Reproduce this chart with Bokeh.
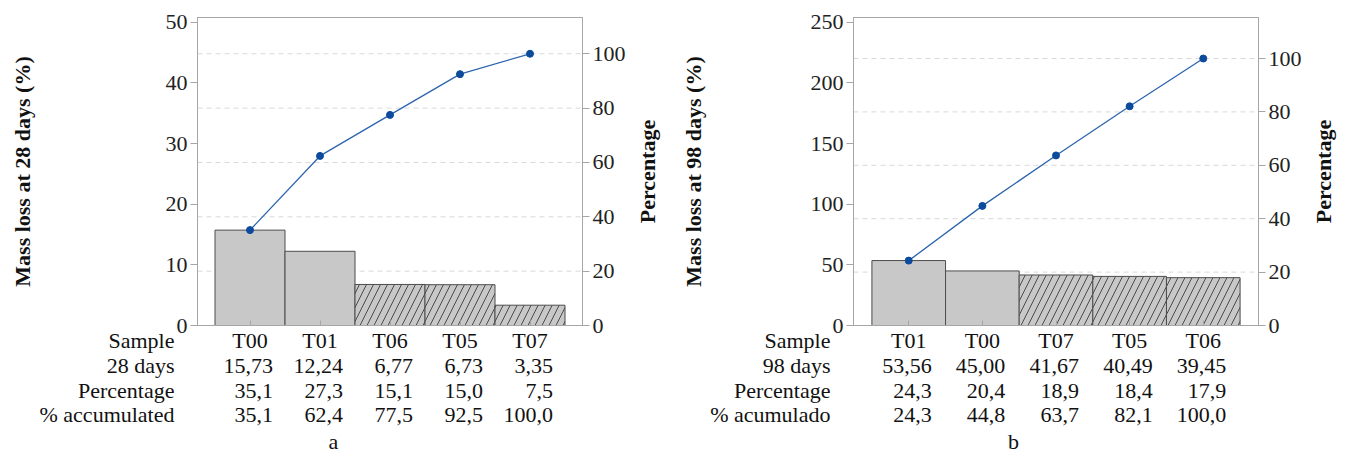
import math
from bokeh.plotting import figure
from bokeh.models import Range1d, LinearAxis, FixedTicker, ColumnDataSource
from bokeh.core.properties import value
from bokeh.layouts import row
from bokeh.embed import file_html
from bokeh.resources import INLINE

# ---------------- data ----------------
samples_a = ["T00", "T01", "T06", "T05", "T07"]
mass_a = [15.73, 12.24, 6.77, 6.73, 3.35]
pct_a = [35.1, 27.3, 15.1, 15.0, 7.5]
cum_a = [35.1, 62.4, 77.5, 92.5, 100.0]
hatched_a = [False, False, True, True, True]
left_ticks_a = [0, 10, 20, 30, 40, 50]
row_labels_a = ["Sample", "28 days", "Percentage", "% accumulated"]
ylabel_a = "Mass loss at 28 days (%)"

samples_b = ["T01", "T00", "T07", "T05", "T06"]
mass_b = [53.56, 45.00, 41.67, 40.49, 39.45]
pct_b = [24.3, 20.4, 18.9, 18.4, 17.9]
cum_b = [24.3, 44.8, 63.7, 82.1, 100.0]
hatched_b = [False, False, True, True, True]
left_ticks_b = [0, 50, 100, 150, 200, 250]
row_labels_b = ["Sample", "98 days", "Percentage", "% acumulado"]
ylabel_b = "Mass loss at 98 days (%)"

right_ticks = [0, 20, 40, 60, 80, 100]
grid_ticks = [20, 40, 60, 80, 100]

# ---------------- layout / style ----------------
FONT = "Liberation Serif"
FS = "22px"
H = 455
FRAME_TOP = 17       # chart box top (px)
FRAME_BOT = 325      # chart box bottom (px)
ROW_Y = [340, 365, 390, 414]
LETTER_Y = 441
GRAY = "#a6a6a6"
TXT = "#111111"


def fmt(v, d):
    return f"{v:.{d}f}".replace(".", ",")


def panel(samples, mass, pct, cum, hatched, left_ticks, ymax, ylabel, row_labels,
          letter, width, box_left, box_right, lab_standoff, letter_x):
    n = len(samples)
    total = sum(mass)
    centers = [i + 0.5 for i in range(n)]
    x0, x1 = -0.25, n + 0.25
    pxx = (box_right - box_left) / (x1 - x0)
    pxy = (FRAME_BOT - FRAME_TOP) / ymax
    xr = Range1d(x0 - box_left / pxx, x1 + (width - box_right) / pxx)
    ys = -(H - FRAME_BOT) / pxy
    ye = ymax + FRAME_TOP / pxy
    yr = Range1d(ys, ye)
    k = 100.0 / total
    p = figure(width=width, height=H, x_range=xr, y_range=yr, output_backend="svg",
               toolbar_location=None, x_axis_location=None, y_axis_location=None,
               min_border=0, min_border_left=0, min_border_right=0,
               min_border_top=0, min_border_bottom=0)
    p.extra_y_ranges = {"pct": Range1d(ys * k, ye * k)}
    p.outline_line_color = None
    p.xgrid.visible = False
    p.ygrid.visible = False

    # dashed percentage grid lines
    p.segment(x0=[x0] * len(grid_ticks), x1=[x1] * len(grid_ticks), y0=grid_ticks,
              y1=grid_ticks, y_range_name="pct", line_color="#d9d9d9",
              line_dash="5 4", line_width=1)
    # chart box
    p.quad(left=[x0], right=[x1], bottom=[0], top=[ymax], fill_color=None,
           line_color=GRAY, line_width=1)

    # left axis
    ya = LinearAxis(ticker=FixedTicker(ticks=left_ticks), fixed_location=x0,
                    bounds=(0, ymax))
    ya.axis_line_color = GRAY
    ya.major_tick_line_color = GRAY
    ya.major_tick_out = 7
    ya.major_tick_in = 0
    ya.minor_tick_line_color = None
    ya.major_label_standoff = 3
    ya.major_label_text_font = FONT
    ya.major_label_text_font_size = FS
    ya.major_label_text_color = "#222222"
    ya.axis_label = ylabel
    ya.axis_label_text_font = FONT
    ya.axis_label_text_font_size = FS
    ya.axis_label_text_font_style = "bold"
    ya.axis_label_text_color = TXT
    ya.axis_label_standoff = lab_standoff
    p.add_layout(ya, "left")

    # right axis (cumulative percentage)
    ra = LinearAxis(y_range_name="pct", ticker=FixedTicker(ticks=right_ticks),
                    fixed_location=x1, bounds=(0, ymax * k))
    ra.axis_line_color = GRAY
    ra.major_tick_line_color = GRAY
    ra.major_tick_out = 7
    ra.major_tick_in = 0
    ra.minor_tick_line_color = None
    ra.major_label_standoff = 3
    ra.major_label_text_font = FONT
    ra.major_label_text_font_size = FS
    ra.major_label_text_color = "#222222"
    p.add_layout(ra, "right")

    # bottom axis: inward ticks at bar centres
    xa = LinearAxis(ticker=FixedTicker(ticks=centers), fixed_location=0,
                    bounds=(x0, x1))
    xa.axis_line_color = GRAY
    xa.major_tick_line_color = GRAY
    xa.major_tick_in = 5
    xa.major_tick_out = 0
    xa.minor_tick_line_color = None
    xa.major_label_text_color = None
    xa.major_label_text_font_size = "1px"
    p.add_layout(xa, "below")

    src = ColumnDataSource(dict(
        left=[i for i in range(n)], right=[i + 1 for i in range(n)], top=mass,
        hatch=["/" if h else " " for h in hatched]))
    p.quad(left="left", right="right", bottom=0, top="top", source=src,
           fill_color="#c8c8c8", line_color="#4d4d4d", line_width=1,
           hatch_pattern="hatch", hatch_color="#4a4a4a", hatch_scale=14, hatch_weight=1)

    p.line(centers, cum, y_range_name="pct", line_color="#2d65ae", line_width=1.3)
    p.scatter(centers, cum, y_range_name="pct", size=7, fill_color="#0b4a9c",
              line_color="#0b4a9c")

    txt = dict(text_font=value(FONT), text_font_size=FS, text_color=TXT,
               text_baseline="middle")
    # right axis title
    p.text(x=[x1], y=[ymax / 2], text=["Percentage"], x_offset=65, angle=math.pi / 2,
           text_align="center", text_font_style="bold", **txt)

    # table below the chart
    def ydat(py):
        return -(py - FRAME_BOT) / pxy

    p.text(x=[x0] * len(row_labels), y=[ydat(v) for v in ROW_Y], text=row_labels,
           x_offset=-23, text_align="right", **txt)
    p.text(x=centers, y=[ydat(ROW_Y[0])] * n, text=samples, text_align="center", **txt)
    rows = [[fmt(v, 2) for v in mass], [fmt(v, 1) for v in pct], [fmt(v, 1) for v in cum]]
    for r, vals in enumerate(rows):
        p.text(x=centers, y=[ydat(ROW_Y[r + 1])] * n, text=vals, x_offset=23,
               text_align="right", **txt)
    p.text(x=[x0], y=[ydat(LETTER_Y)], text=[letter], x_offset=letter_x - box_left,
           text_align="center", **txt)
    return p


pa = panel(samples_a, mass_a, pct_a, cum_a, hatched_a, left_ticks_a, 50.8, ylabel_a,
           row_labels_a, "a", 668, 197, 582, 128, 333)
pb = panel(samples_b, mass_b, pct_b, cum_b, hatched_b, left_ticks_b, 254.0, ylabel_b,
           row_labels_b, "b", 676, 853 - 668, 1258 - 668, 102, 1013 - 668)

layout = row(pa, pb)
open("out.html", "w").write(file_html(layout, INLINE))
